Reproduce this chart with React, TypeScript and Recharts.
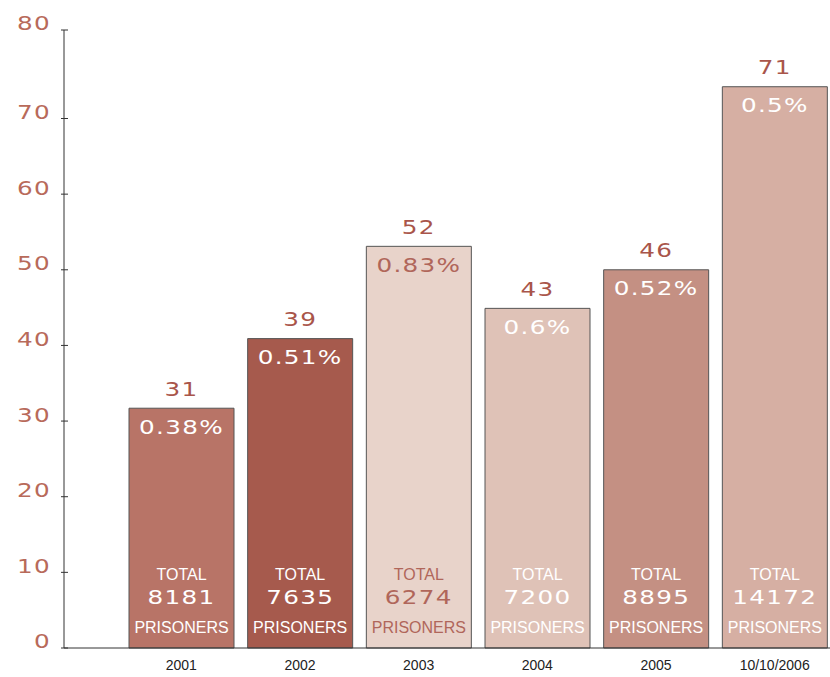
import { BarChart, Bar, XAxis, YAxis, Rectangle } from 'recharts';

// inmates per year, bar height; the printed count sits above each bar
const years = ['2001', '2002', '2003', '2004', '2005', '10/10/2006'];
const barHeights = [31.7, 40.9, 53.1, 44.9, 50.0, 74.2];
const counts = [31, 39, 52, 43, 46, 71];
const rates = ['0.38%', '0.51%', '0.83%', '0.6%', '0.52%', '0.5%'];
const totals = [8181, 7635, 6274, 7200, 8895, 14172];
const yTicks = [0, 10, 20, 30, 40, 50, 60, 70, 81.7];

const fills = ['#b87467', '#a65a4d', '#e8d3ca', '#dfc2b7', '#c49083', '#d6afa3'];
const innerText = ['#ffffff', '#ffffff', '#b0665a', '#ffffff', '#ffffff', '#ffffff'];

const data = years.map((year, i) => ({
  year,
  value: barHeights[i],
  count: counts[i],
  rate: rates[i],
  total: totals[i],
}));

const plainFont = 'Liberation Sans, Arial, sans-serif';

// wide "techno" digits: DejaVu stretched sideways
function TechText({ x, y, fill, anchor = 'middle', children }: any) {
  return (
    <text
      transform={`translate(${x},${y}) scale(1.3,1)`}
      textAnchor={anchor}
      dominantBaseline="central"
      fill={fill}
      fontSize={19}
      fontFamily="DejaVu Sans"
      letterSpacing={1}
    >
      {children}
    </text>
  );
}

const BarShape = (props: any) => {
  const { x, y, width, height, index, payload } = props;
  const cx = x + width / 2;
  const bottom = y + height;
  const tc = innerText[index];
  return (
    <g>
      <Rectangle x={x} y={y} width={width} height={height} fill={fills[index]} stroke="#555" strokeWidth={1} />
      <TechText x={cx} y={y - 19} fill="#a9554a">{payload.count}</TechText>
      <TechText x={cx} y={y + 19} fill={tc}>{payload.rate}</TechText>
      <text x={cx} y={bottom - 74} textAnchor="middle" dominantBaseline="central" fill={tc} fontSize={16} fontFamily={plainFont}>
        TOTAL
      </text>
      <TechText x={cx} y={bottom - 50} fill={tc}>{payload.total}</TechText>
      <text x={cx} y={bottom - 21} textAnchor="middle" dominantBaseline="central" fill={tc} fontSize={16} fontFamily={plainFont}>
        PRISONERS
      </text>
    </g>
  );
};

const YTick = ({ x, y, payload }: any) => (
  <g>
    <line x1={x - 3} x2={x + 4} y1={y} y2={y} stroke="#333" />
    <TechText x={x - 13} y={y - 6} fill="#b86a5a" anchor="end">
      {Math.round(payload.value / 10) * 10}
    </TechText>
  </g>
);

export default function App() {
  return (
    <div style={{ position: 'absolute', left: 0, top: 0, width: 830, height: 677, background: '#fff' }}>
      <BarChart width={830} height={677} data={data} margin={{ top: 30, right: -4, left: 0, bottom: 0 }}>
        <XAxis
          dataKey="year"
          height={29}
          padding={{ left: 58, right: 0 }}
          tickLine={false}
          tickSize={0}
          tickMargin={12}
          axisLine={{ stroke: '#333' }}
          tick={{ fill: '#222', fontSize: 14, fontFamily: plainFont }}
        />
        <YAxis
          width={64}
          domain={[0, 81.7]}
          ticks={yTicks}
          interval={0}
          tickLine={false}
          tickSize={0}
          tickMargin={0}
          axisLine={{ stroke: '#333' }}
          tick={<YTick />}
        />
        <Bar dataKey="value" barSize={105} shape={<BarShape />} isAnimationActive={false} />
      </BarChart>
    </div>
  );
}
